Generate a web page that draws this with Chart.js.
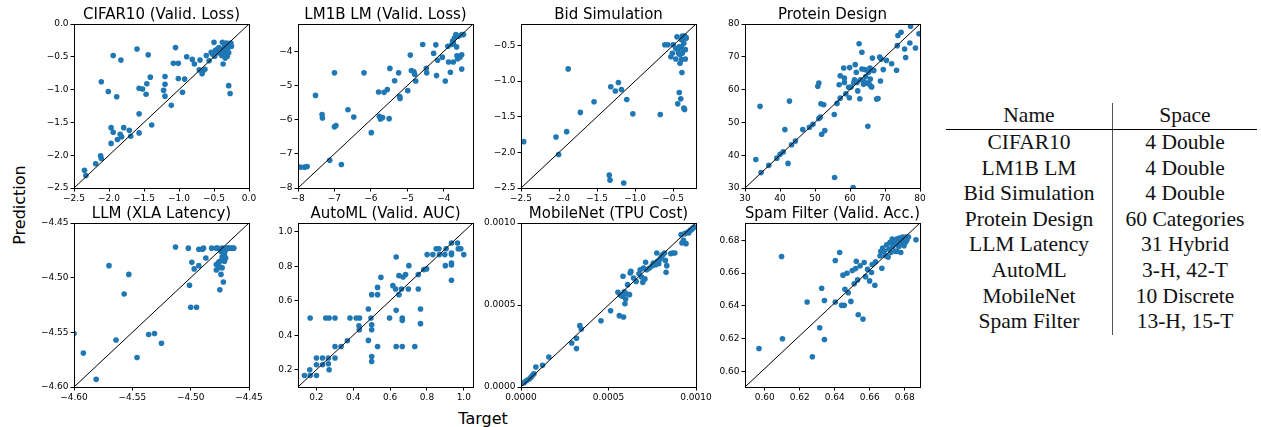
<!DOCTYPE html>
<html>
<head>
<meta charset="utf-8">
<script src="https://cdn.jsdelivr.net/npm/chart.js"></script>
<style>
  body { margin:0; background:#fff; width:1261px; height:427px; position:relative; overflow:hidden; font-family:"DejaVu Sans", sans-serif; }
  .panel { position:absolute; }
  .axis-label { position:absolute; font-size:16px; color:#000; white-space:nowrap; }
  #ylab { left:19px; top:205px; transform:translate(-50%,-50%) rotate(-90deg); }
  #xlab { left:483px; top:418px; transform:translate(-50%,-50%); }
  #tbl { position:absolute; left:946px; top:103px; border-collapse:collapse; font-family:"Liberation Serif", serif; font-size:21.5px; color:#111; }
  #tbl td, #tbl th { padding:0; height:25.6px; line-height:25.6px; text-align:center; font-weight:normal; }
  #tbl .c1 { width:166px; }
  #tbl .c2 { width:144px; border-left:1.3px solid #555; }
  #tbl thead th { border-bottom:1px solid #000; height:26px; }
</style>
</head>
<body>
<div class="axis-label" id="ylab">Prediction</div>
<div class="axis-label" id="xlab">Target</div>
<table id="tbl"><thead><tr><th class="c1">Name</th><th class="c2">Space</th></tr></thead><tbody></tbody></table>

<script>
// data
const titles = ['CIFAR10 (Valid. Loss)', 'LM1B LM (Valid. Loss)', 'Bid Simulation', 'Protein Design',
  'LLM (XLA Latency)', 'AutoML (Valid. AUC)', 'MobileNet (TPU Cost)', 'Spam Filter (Valid. Acc.)'];

const tableNames = ['CIFAR10', 'LM1B LM', 'Bid Simulation', 'Protein Design', 'LLM Latency', 'AutoML', 'MobileNet', 'Spam Filter'];
const tableSpaces = ['4 Double', '4 Double', '4 Double', '60 Categories', '31 Hybrid', '3-H, 42-T', '10 Discrete', '13-H, 15-T'];

const cifarTarget = [-2.35,-2.33,-2.19,-2.12,-2.11,-2.11,-2.01,-1.94,-1.89,-1.97,-1.97,-1.94,-1.88,-1.84,-1.82,-1.83,-1.79,-1.71,-1.69,-1.60,
  -1.57,-1.57,-1.57,-1.52,-1.47,-1.46,-1.44,-1.41,-1.39,-1.22,-1.20,-1.20,-1.20,-1.11,-1.08,-1.05,-1.01,-1.01,-0.95,-0.92,
  -0.89,-0.81,-0.78,-0.71,-0.70,-0.67,-0.66,-0.63,-0.61,-0.57,-0.54,-0.52,-0.50,-0.49,-0.48,-0.45,-0.43,-0.41,-0.39,-0.38,
  -0.37,-0.36,-0.35,-0.33,-0.32,-0.31,-0.30,-0.29,-0.29,-0.28,-0.27,-0.26,-0.25,-0.34,-0.39,-0.44];
const cifarPred = [-2.23,-2.31,-2.13,-2.01,-2.05,-0.88,-1.03,-0.48,-1.11,-1.82,-1.58,-1.65,-1.76,-1.68,-1.72,-0.55,-1.58,-1.62,-1.71,-0.38,
  -1.37,-1.66,-0.98,-0.99,-1.07,-0.91,-0.47,-0.81,-1.54,-1.01,-1.10,-0.92,-0.80,-1.24,-0.60,-0.36,-0.83,-0.60,-1.04,-0.84,
  -0.50,-0.54,-0.61,-0.70,-0.55,-0.76,-0.72,-0.69,-0.48,-0.56,-0.43,-0.46,-0.28,-0.49,-0.40,-0.38,-0.36,-0.42,-0.48,-0.28,
  -0.61,-0.44,-0.34,-0.40,-0.29,-0.49,-0.37,-0.94,-0.44,-0.33,-1.06,-0.29,-0.34,-0.52,-0.39,-0.44];

const lm1bTarget = [-7.94,-7.82,-7.75,-7.52,-7.34,-7.33,-7.13,-7.0,-7.0,-6.96,-6.81,-6.63,-6.47,-6.19,-5.99,-5.79,-5.77,-5.74,-5.68,-5.64,
  -5.55,-5.50,-5.48,-5.35,-5.24,-5.21,-5.20,-4.99,-4.92,-4.89,-4.82,-4.80,-4.77,-4.58,-4.48,-4.47,-4.28,-4.22,-4.20,-4.17,
  -4.04,-3.96,-3.89,-3.87,-3.82,-3.76,-3.74,-3.71,-3.67,-3.65,-3.64,-3.62,-3.60,-3.56,-3.51,-3.51,-3.51,-3.46,-3.74,-3.78];
const lm1bPred = [-7.39,-7.39,-7.37,-5.29,-5.85,-5.95,-7.19,-4.63,-6.21,-6.17,-7.31,-5.71,-5.92,-4.63,-6.38,-5.19,-5.90,-5.98,-5.94,-5.20,
  -5.12,-5.97,-4.50,-4.86,-4.63,-5.32,-5.38,-5.15,-4.11,-4.56,-4.60,-4.67,-4.87,-3.80,-4.50,-4.63,-4.06,-3.81,-4.71,-4.26,
  -4.17,-4.87,-3.85,-4.31,-4.61,-3.70,-4.31,-3.61,-3.51,-3.87,-4.13,-4.22,-3.56,-4.17,-3.51,-4.10,-4.52,-3.51,-3.76,-3.80];

const bidTarget = [-2.465,-2.04,-2.005,-1.90,-1.88,-1.72,-1.54,-1.34,-1.33,-1.32,-1.26,-1.22,-1.18,-1.15,-1.11,-1.03,-0.67,-0.61,-0.57,-0.53,
  -0.51,-0.50,-0.465,-0.45,-0.44,-0.43,-0.42,-0.42,-0.41,-0.40,-0.39,-0.39,-0.385,-0.38,-0.38,-0.37,-0.36,-0.36,-0.35,-0.35,
  -0.34,-0.34,-0.33,-0.44,-0.41,-0.465,-0.39,-0.33];
const bidPred = [-1.85,-1.785,-2.03,-1.71,-0.83,-1.44,-1.29,-2.32,-2.39,-1.08,-1.14,-1.02,-1.12,-2.43,-1.26,-1.46,-1.47,-0.49,-0.49,-0.66,
  -0.61,-0.49,-0.69,-0.38,-1.32,-0.61,-1.16,-0.52,-0.75,-1.25,-0.70,-0.42,-0.88,-0.37,-0.61,-0.56,-0.47,-1.38,-1.40,-0.37,
  -0.69,-0.56,-0.40,-0.56,-0.63,-0.54,-0.52,-0.39];

const proteinTarget = [33.1,34.3,34.6,36.8,39.1,40.0,40.9,41.4,42.3,42.7,43.3,44.4,46.5,48.4,49.4,50.8,51.1,51.1,51.5,51.7,
  51.9,52.5,52.8,55.5,55.6,56.3,56.9,57.2,57.2,58.2,58.4,58.4,58.8,59.6,59.9,59.8,60.3,60.9,61.1,61.3,
  61.5,61.8,62.2,62.6,62.8,63.0,63.4,63.4,63.9,64.3,64.5,64.9,65.1,65.3,65.5,65.7,65.8,66.0,66.2,66.4,
  66.6,66.8,67.6,68.0,68.5,68.7,68.9,69.5,70.4,71.9,73.3,73.5,73.7,74.6,75.6,75.9,77.1,77.3,78.7,79.7,63.9,62.0];
const proteinPred = [38.7,54.9,34.7,36.9,39.1,40.3,41.0,47.8,37.5,56.5,43.2,44.3,47.8,48.5,49.4,61.0,62.0,51.2,51.6,55.7,
  46.4,55.4,47.5,52.4,33.2,55.8,61.5,57.4,64.2,66.6,63.5,62.2,58.7,60.7,66.7,57.5,60.8,30.1,62.2,63.0,
  67.6,65.3,59.6,74.0,57.2,63.0,71.4,66.3,61.6,66.1,64.0,62.0,48.8,65.3,61.6,66.6,63.2,61.0,60.8,69.6,
  65.9,65.8,57.1,57.3,69.9,62.6,69.3,66.1,68.9,67.9,65.9,73.4,76.5,77.5,72.4,69.8,74.2,79.3,72.7,77.0,62.5,62.2];

const llmTarget = [-4.600,-4.592,-4.581,-4.570,-4.564,-4.557,-4.553,-4.546,-4.536,-4.531,-4.525,-4.513,-4.502,-4.501,-4.500,-4.499,-4.497,-4.495,-4.493,-4.493,
  -4.490,-4.489,-4.487,-4.482,-4.478,-4.478,-4.478,-4.477,-4.476,-4.475,-4.475,-4.474,-4.474,-4.473,-4.473,-4.472,-4.471,-4.471,-4.470,-4.470,
  -4.469,-4.468,-4.467,-4.465,-4.464,-4.463,-4.473,-4.476,-4.475];
const llmPred = [-4.551,-4.569,-4.593,-4.489,-4.557,-4.515,-4.497,-4.573,-4.552,-4.551,-4.560,-4.472,-4.473,-4.507,-4.527,-4.486,-4.492,-4.527,-4.489,-4.474,
  -4.474,-4.473,-4.482,-4.473,-4.473,-4.488,-4.493,-4.473,-4.486,-4.511,-4.490,-4.476,-4.497,-4.481,-4.473,-4.504,-4.479,-4.485,-4.475,-4.482,
  -4.473,-4.473,-4.473,-4.473,-4.473,-4.473,-4.491,-4.491,-4.485];

const automlTarget = [0.135,0.164,0.166,0.166,0.2,0.2,0.2,0.233,0.233,0.251,0.265,0.265,0.269,0.269,0.301,0.301,0.301,0.334,0.368,0.382,
  0.416,0.434,0.431,0.433,0.482,0.482,0.496,0.5,0.5,0.5,0.5,0.5,0.532,0.532,0.532,0.55,0.597,0.615,0.63,0.633,
  0.633,0.633,0.648,0.648,0.662,0.666,0.666,0.666,0.67,0.684,0.699,0.702,0.734,0.753,0.753,0.765,0.765,0.783,0.798,0.801,
  0.832,0.85,0.865,0.868,0.897,0.9,0.904,0.933,0.933,0.933,0.933,0.933,0.933,0.966,0.97,0.984,1.0];
const automlPred = [0.167,0.2,0.167,0.5,0.229,0.268,0.167,0.268,0.229,0.5,0.268,0.235,0.2,0.5,0.268,0.335,0.5,0.335,0.368,0.5,
  0.5,0.5,0.455,0.432,0.37,0.552,0.5,0.635,0.461,0.432,0.277,0.248,0.677,0.635,0.335,0.735,0.5,0.687,0.668,0.853,
  0.544,0.335,0.745,0.635,0.668,0.5,0.486,0.335,0.737,0.751,0.668,0.803,0.335,0.751,0.668,0.552,0.467,0.78,0.784,0.867,
  0.867,0.901,0.901,0.867,0.867,0.803,0.901,0.934,0.876,0.867,0.818,0.807,0.718,0.934,0.901,0.901,0.867];

const mobileTarget = [0.09e-4,0.19e-4,0.32e-4,0.47e-4,0.57e-4,0.66e-4,0.74e-4,0.85e-4,1.23e-4,1.59e-4,
  2.90e-4,3.17e-4,3.17e-4,3.36e-4,3.45e-4,4.57e-4,5.12e-4,5.54e-4,5.62e-4,5.67e-4,
  5.79e-4,5.83e-4,5.86e-4,5.90e-4,5.94e-4,5.98e-4,6.02e-4,6.09e-4,6.20e-4,6.24e-4,
  6.28e-4,6.43e-4,6.58e-4,6.74e-4,6.81e-4,6.89e-4,6.96e-4,7.00e-4,7.08e-4,7.12e-4,
  7.19e-4,7.34e-4,7.50e-4,7.57e-4,7.69e-4,7.76e-4,7.80e-4,7.87e-4,7.95e-4,8.03e-4,
  8.10e-4,8.20e-4,8.25e-4,8.29e-4,8.33e-4,8.56e-4,8.67e-4,8.79e-4,9.15e-4,9.20e-4,
  9.28e-4,9.35e-4,9.43e-4,9.51e-4,9.58e-4,9.66e-4,9.73e-4,9.81e-4,9.89e-4];
const mobilePred = [0.24e-4,0.28e-4,0.39e-4,0.49e-4,0.59e-4,0.71e-4,0.81e-4,1.22e-4,1.32e-4,1.83e-4,
  2.68e-4,2.34e-4,2.97e-4,3.74e-4,3.54e-4,4.04e-4,4.65e-4,5.77e-4,4.35e-4,5.61e-4,
  5.53e-4,6.75e-4,4.27e-4,5.81e-4,5.08e-4,5.37e-4,5.69e-4,6.24e-4,5.63e-4,6.95e-4,
  7.05e-4,6.65e-4,6.44e-4,6.91e-4,7.15e-4,6.71e-4,6.38e-4,7.26e-4,6.59e-4,7.60e-4,
  7.15e-4,7.26e-4,7.40e-4,7.56e-4,7.46e-4,8.17e-4,7.66e-4,7.52e-4,7.80e-4,7.97e-4,
  8.07e-4,8.17e-4,7.72e-4,6.99e-4,7.40e-4,8.13e-4,8.17e-4,8.17e-4,9.29e-4,8.78e-4,
  8.94e-4,9.35e-4,8.74e-4,9.43e-4,9.39e-4,9.55e-4,9.59e-4,9.67e-4,9.76e-4];

const spamTarget = [0.5967,0.6096,0.6101,0.6242,0.6272,0.6314,0.6325,0.6341,0.6341,0.6403,0.6403,0.6428,0.6439,0.6447,0.6454,0.6458,0.6470,0.6477,0.6492,0.6500,
  0.6511,0.6519,0.6523,0.6530,0.6534,0.6545,0.6561,0.6568,0.6576,0.6587,0.6599,0.6610,0.6614,0.6629,0.6633,0.6659,0.6663,0.6669,0.6674,0.6682,
  0.6690,0.6697,0.6705,0.6709,0.6716,0.6720,0.6728,0.6731,0.6739,0.6745,0.6750,0.6754,0.6762,0.6766,0.6769,0.6773,0.6777,0.6781,0.6785,0.6788,
  0.6792,0.6796,0.6800,0.6804,0.6807,0.6811,0.6821,0.6864,0.6754];
const spamPred = [0.6140,0.6701,0.6199,0.6423,0.6089,0.6266,0.6507,0.6432,0.6195,0.6676,0.6423,0.6725,0.6403,0.6587,0.6403,0.6501,0.6599,0.6480,0.6427,0.6615,
  0.6534,0.6627,0.6672,0.6558,0.6346,0.6644,0.6319,0.6664,0.6578,0.6623,0.6552,0.6603,0.6652,0.6525,0.6668,0.6705,0.6732,0.6629,0.6752,0.6732,
  0.6705,0.6772,0.6697,0.6746,0.6787,0.6725,0.6807,0.6762,0.6787,0.6732,0.6779,0.6807,0.6783,0.6762,0.6813,0.6793,0.6725,0.6807,0.6779,0.6819,
  0.6793,0.6766,0.6813,0.6787,0.6819,0.6799,0.6819,0.6803,0.6732];

// axis ranges and ticks
const cifarRange = [-2.5, 0], lm1bRange = [-8, -3.2], bidRange = [-2.5, -0.2], proteinRange = [30, 80];
const llmRange = [-4.6, -4.45], automlRange = [0.1, 1.05], mobileRange = [0, 0.001];
const spamXRange = [0.5887, 0.6887], spamYRange = [0.5905, 0.6905];

const cifarTicks = [-2.5, -2.0, -1.5, -1.0, -0.5, 0.0];
const lm1bTicks = [-8, -7, -6, -5, -4];
const bidTicks = [-2.5, -2.0, -1.5, -1.0, -0.5];
const proteinTicks = [30, 40, 50, 60, 70, 80];
const llmTicks = [-4.60, -4.55, -4.50, -4.45];
const automlTicks = [0.2, 0.4, 0.6, 0.8, 1.0];
const mobileTicks = [0, 0.0005, 0.0010];
const spamTicks = [0.60, 0.62, 0.64, 0.66, 0.68];
const tickDecimals = [1, 0, 1, 0, 2, 1, 4, 2];

// layout
const colLeft = [74, 298, 521, 745];
const rowTop = [24, 223];
const plotW = 175, plotH = 164;
const padL = 55, padT = 25, padR = 20, padB = 20;

const panels = [
  { x: cifarTarget, y: cifarPred, xr: cifarRange, yr: cifarRange, ticks: cifarTicks },
  { x: lm1bTarget, y: lm1bPred, xr: lm1bRange, yr: lm1bRange, ticks: lm1bTicks },
  { x: bidTarget, y: bidPred, xr: bidRange, yr: bidRange, ticks: bidTicks },
  { x: proteinTarget, y: proteinPred, xr: proteinRange, yr: proteinRange, ticks: proteinTicks },
  { x: llmTarget, y: llmPred, xr: llmRange, yr: llmRange, ticks: llmTicks },
  { x: automlTarget, y: automlPred, xr: automlRange, yr: automlRange, ticks: automlTicks },
  { x: mobileTarget, y: mobilePred, xr: mobileRange, yr: mobileRange, ticks: mobileTicks },
  { x: spamTarget, y: spamPred, xr: spamXRange, yr: spamYRange, ticks: spamTicks }
];

// table
const tbody = document.querySelector('#tbl tbody');
tableNames.forEach((n, i) => {
  const tr = document.createElement('tr');
  tr.innerHTML = '<td class="c1">' + n + '</td><td class="c2">' + tableSpaces[i] + '</td>';
  tbody.appendChild(tr);
});

// box around each axes
const framePlugin = {
  id: 'frame',
  afterDatasetsDraw(chart) {
    const a = chart.chartArea, ctx = chart.ctx;
    ctx.save();
    ctx.strokeStyle = '#000';
    ctx.lineWidth = 1;
    ctx.strokeRect(Math.round(a.left) + 0.5, Math.round(a.top) + 0.5, Math.round(a.width), Math.round(a.height));
    ctx.restore();
  }
};

const tickFont = { family: 'DejaVu Sans', size: 9 };

function axisOpts(p, dec, isX) {
  return {
    type: 'linear',
    min: isX ? p.xr[0] : p.yr[0],
    max: isX ? p.xr[1] : p.yr[1],
    bounds: 'data',
    afterFit: s => { if (isX) s.height = padB; else s.width = padL; },
    afterBuildTicks: s => { s.ticks = p.ticks.map(v => ({ value: v })); },
    grid: { display: true, drawOnChartArea: false, drawTicks: true, tickLength: 3.5, color: '#000', lineWidth: 1 },
    border: { display: false },
    ticks: {
      font: tickFont, color: '#000', padding: 2, maxRotation: 0, autoSkip: false,
      callback: v => Number(v).toFixed(dec).replace('-', '\u2212')
    }
  };
}

panels.forEach((p, i) => {
  const left = colLeft[i % 4], top = rowTop[Math.floor(i / 4)];
  const div = document.createElement('div');
  div.className = 'panel';
  div.style.left = (left - padL) + 'px';
  div.style.top = (top - padT) + 'px';
  const cv = document.createElement('canvas');
  cv.width = padL + plotW + padR;
  cv.height = padT + plotH + padB;
  cv.style.width = cv.width + 'px';
  cv.style.height = cv.height + 'px';
  div.appendChild(cv);
  document.body.appendChild(div);

  const pts = p.x.map((v, k) => ({ x: v, y: p.y[k] }));

  new Chart(cv.getContext('2d'), {
    type: 'scatter',
    data: {
      datasets: [
        {
          data: [{ x: p.xr[0], y: p.yr[0] }, { x: p.xr[1], y: p.yr[1] }],
          showLine: true, borderColor: '#000', borderWidth: 1, pointRadius: 0, order: 0
        },
        {
          data: pts, backgroundColor: '#1f77b4', borderWidth: 0, pointRadius: 2.8, order: 1
        }
      ]
    },
    options: {
      responsive: false,
      animation: false,
      layout: { padding: { left: 0, right: padR, top: 0, bottom: 0 } },
      plugins: {
        legend: { display: false },
        tooltip: { enabled: false },
        title: {
          display: true, text: titles[i], fullSize: false, color: '#000',
          font: { family: 'DejaVu Sans', size: 15, weight: 'normal' },
          padding: { top: 7, bottom: 0 }
        }
      },
      scales: {
        x: axisOpts(p, tickDecimals[i], true),
        y: axisOpts(p, tickDecimals[i], false)
      }
    },
    plugins: [framePlugin]
  });
});
</script>
</body>
</html>
